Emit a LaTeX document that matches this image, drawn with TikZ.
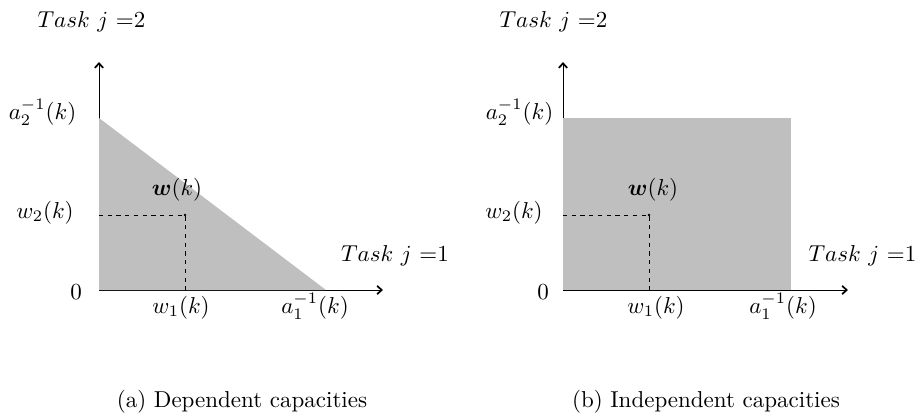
\documentclass[tikz,border=0pt]{standalone}
\usepackage{bm}
\usetikzlibrary{arrows.meta}
\begin{document}
\begin{tikzpicture}[x=0.4348pt,y=-0.4348pt,
  axis/.style={-{Straight Barb[length=2pt,width=3.6pt,line width=0.75pt]},line width=0.4pt},
  region/.style={fill=gray!50},
  guide/.style={dash pattern=on 1.8pt off 2pt,line width=0.4pt},
  lbl/.style={anchor=base,inner sep=0pt},
  pt/.style={fill=black}]
\useasboundingbox (0,0) rectangle (916,418);
% ---------- (a) dependent ----------
\coordinate (Ao) at (99,290);
\coordinate (Ay) at (99,62);
\coordinate (Ax) at (383,290);
\coordinate (Aa2) at (99,118);
\coordinate (Aa1) at (326,290);
\coordinate (Aw) at (185,215);
\coordinate (Aw2) at (99,215);
\coordinate (Aw1) at (185,290);
\draw[axis] (Ao) -- (Ay);
\draw[axis] (Ao) -- (Ax);
\fill[region] (Ao) -- (Aa2) -- (Aa1) -- cycle;
\draw[guide] (Aw2) -- (Aw) -- (Aw1);
\fill[pt] (Aw) circle (0.6pt);
\node[lbl] (At2) at (91.5,27) {$Task\ j$ =2};
\node[lbl] (At1) at (395,261) {$Task\ j$ =1};
\node[lbl] (Ala2) at (42.5,119) {$a_2^{-1}(k)$};
\node[lbl] (Alw2) at (45,218) {$w_2(k)$};
\node[lbl] (Alw) at (177,195) {$\bm{w}(k)$};
\node[lbl] (Al0) at (76,299) {$0$};
\node[lbl] (Alw1) at (181,313) {$w_1(k)$};
\node[lbl] (Ala1) at (315,313) {$a_1^{-1}(k)$};
\node[lbl] (Acap) at (242,407) {(a) Dependent capacities};
% ---------- (b) independent ----------
\coordinate (Bo) at (563,290);
\coordinate (By) at (563,62);
\coordinate (Bx) at (848,290);
\coordinate (Bc) at (791,118);
\coordinate (Bw) at (649,215);
\coordinate (Bw2) at (563,215);
\coordinate (Bw1) at (649,290);
\draw[axis] (Bo) -- (By);
\draw[axis] (Bo) -- (Bx);
\fill[region] (Bo) rectangle (Bc);
\draw[guide] (Bw2) -- (Bw) -- (Bw1);
\fill[pt] (Bw) circle (0.6pt);
\node[lbl] (Bt2) at (553.5,27) {$Task\ j$ =2};
\node[lbl] (Bt1) at (862.5,261) {$Task\ j$ =1};
\node[lbl] (Bla2) at (519.5,119) {$a_2^{-1}(k)$};
\node[lbl] (Blw2) at (514,218) {$w_2(k)$};
\node[lbl] (Blw) at (653,195) {$\bm{w}(k)$};
\node[lbl] (Bl0) at (543,299) {$0$};
\node[lbl] (Blw1) at (656,313) {$w_1(k)$};
\node[lbl] (Bla1) at (783,313) {$a_1^{-1}(k)$};
\node[lbl] (Bcap) at (706,407) {(b) Independent capacities};
\end{tikzpicture}
\end{document}
